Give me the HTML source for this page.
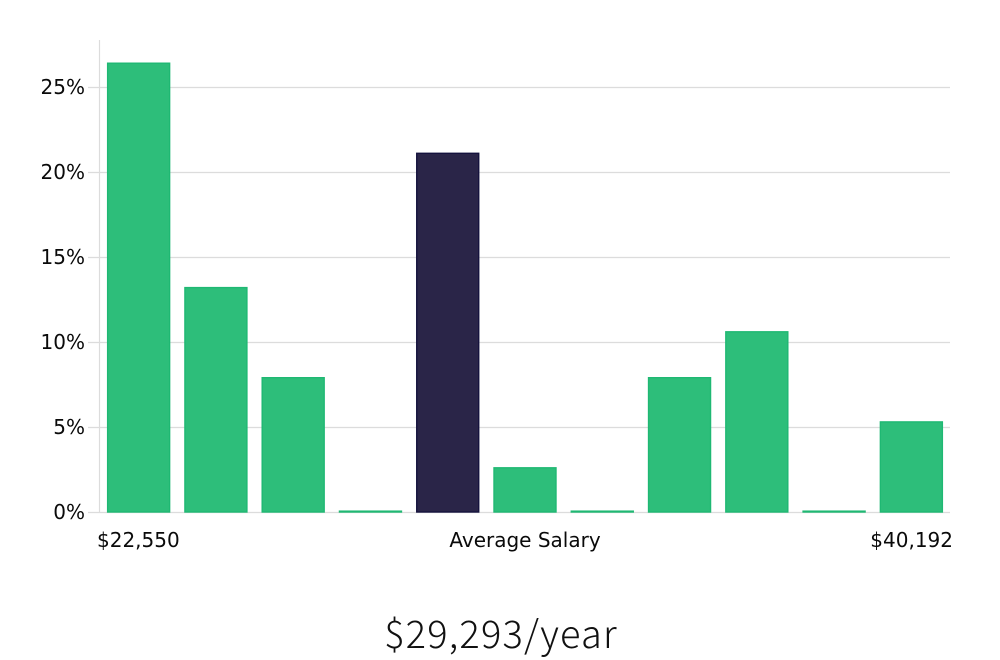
<!DOCTYPE html>
<html lang="en">
<head>
<meta charset="utf-8">
<title>Average Salary</title>
<style>
  html, body { margin: 0; padding: 0; background: #fff; }
  #chart { display: block; width: 1000px; height: 660px; }
  .tick { font-family: "DejaVu Sans", sans-serif; font-size: 20px; fill: #0a0a0a; }
  .title { font-family: "Noto Sans CJK JP", "Liberation Sans", sans-serif; font-weight: 300; font-size: 38px; letter-spacing: 1.2px; fill: #111; }
</style>
</head>
<body>
<svg id="chart" xmlns="http://www.w3.org/2000/svg" width="1000" height="660" viewBox="0 0 1000 660"></svg>
<script>
const categories = ['b1','b2','b3','b4','b5','b6','b7','b8','b9','b10','b11'];
const values = [26.4, 13.2, 7.9, 0.05, 21.1, 2.6, 0.05, 7.9, 10.6, 0.05, 5.3];
const highlighted = ['b5'];
const yTicks = [0, 5, 10, 15, 20, 25];
const xLabels = ['$22,550', 'Average Salary', '$40,192'];
const titleText = '$29,293/year';

const svg = document.getElementById('chart');
const NS = 'http://www.w3.org/2000/svg';
const plotLeft = 100, plotRight = 950, plotBottom = 512, unit = 17;
const step = (plotRight - plotLeft) / categories.length;
const barW = 62;
function y(v) { return plotBottom - v * unit; }
function x(i) { return plotLeft + step * i + (step - barW) / 2; }
function make(tag, attrs) {
  const el = document.createElementNS(NS, tag);
  for (const k in attrs) el.setAttribute(k, attrs[k]);
  svg.appendChild(el);
  return el;
}

yTicks.forEach(function (t) {
  const line = make('line', {x1: 88, x2: plotRight, y1: y(t) + 0.5, y2: y(t) + 0.5, stroke: '#dcdcdc', 'stroke-width': 1.2});
  
  
  const label = make('text', {x: 85, y: y(t) + 7, 'text-anchor': 'end', class: 'tick'});
  label.textContent = t + '%';
  
  
});

const axis = make('line', {x1: 99.5, x2: 99.5, y1: 40, y2: plotBottom + 0.5, stroke: '#dcdcdc', 'stroke-width': 1.2});



categories.forEach(function (c, i) {
  const hi = highlighted.indexOf(c) >= 0;
  const bar = make('rect', {
    x: x(i), y: y(values[i]), width: barW, height: Math.max(plotBottom - y(values[i]), 0.5),
    fill: hi ? '#2a2548' : '#2dbe7a',
    stroke: hi ? '#15123e' : '#1fb873', 'stroke-width': 1.4
  });
  
  
});

[[97, 'start'], [525, 'middle'], [953, 'end']].forEach(function (p, i) {
  const label = make('text', {x: p[0], y: 547, 'text-anchor': p[1], class: 'tick'});
  label.textContent = xLabels[i];
  
  
});

const title = make('text', {x: 501, y: 648, 'text-anchor': 'middle', class: 'title'});
title.textContent = titleText;


</script>
</body>
</html>
